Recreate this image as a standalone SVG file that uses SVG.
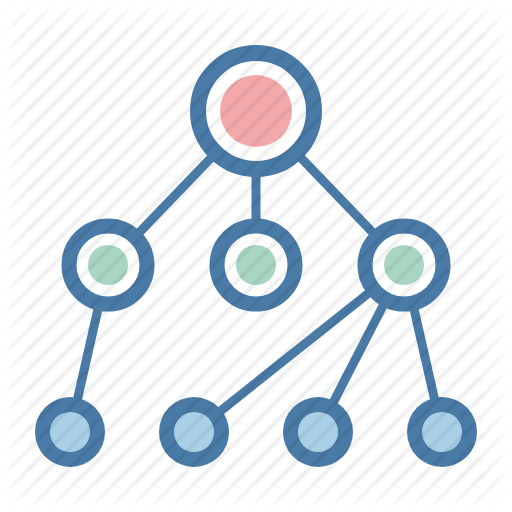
<svg xmlns="http://www.w3.org/2000/svg" width="512" height="512" viewBox="0 0 512 512">
<defs>
<pattern id="stripes" patternUnits="userSpaceOnUse" x="0" y="0" width="20" height="20">
<path d="M-3,1 L1,-3 M-2,20 L20,-2 M16,22 L22,16" stroke="#000" stroke-opacity="0.06" stroke-width="3.6" fill="none"/>
</pattern>
<filter id="soft" x="-10%" y="-10%" width="120%" height="120%">
<feGaussianBlur stdDeviation="9"/>
</filter>
<mask id="edgefade" maskUnits="userSpaceOnUse" x="0" y="0" width="512" height="512">
<rect x="14" y="14" width="484" height="484" fill="#fff" filter="url(#soft)"/>
</mask>
<style>
.edge{stroke:#4a7ba7;stroke-width:9;fill:none}
.ring{fill:#ffffff;stroke:#4a7ba7}
.leaf{fill:#4a7ba7}
</style>
</defs>
<rect width="512" height="512" fill="#ffffff"/>
<g id="connectors">
<line class="edge" x1="256" y1="111" x2="108" y2="265"/>
<line class="edge" x1="256" y1="111" x2="256" y2="265"/>
<line class="edge" x1="256" y1="111" x2="404" y2="265"/>
<line class="edge" x1="108" y1="265" x2="70" y2="432"/>
<line class="edge" x1="404" y1="265" x2="194" y2="432"/>
<line class="edge" x1="404" y1="265" x2="318" y2="432"/>
<line class="edge" x1="404" y1="265" x2="442" y2="432"/>
</g>
<g id="root">
<circle class="ring" cx="256" cy="111" r="58" stroke-width="16"/>
<circle cx="256" cy="111" r="36" fill="#f3a9aa"/>
</g>
<g id="mid-left">
<circle class="ring" cx="108" cy="265" r="39" stroke-width="15"/>
<circle cx="108" cy="265" r="20" fill="#a9d6c3"/>
</g>
<g id="mid-center">
<circle class="ring" cx="256" cy="265" r="39" stroke-width="15"/>
<circle cx="256" cy="265" r="20" fill="#a9d6c3"/>
</g>
<g id="mid-right">
<circle class="ring" cx="404" cy="265" r="39" stroke-width="15"/>
<circle cx="404" cy="265" r="20" fill="#a9d6c3"/>
</g>
<g id="leaf-1">
<circle class="leaf" cx="70" cy="432" r="35"/>
<circle cx="70" cy="432" r="20" fill="#aad0e7"/>
</g>
<g id="leaf-2">
<circle class="leaf" cx="194" cy="432" r="35"/>
<circle cx="194" cy="432" r="20" fill="#aad0e7"/>
</g>
<g id="leaf-3">
<circle class="leaf" cx="318" cy="432" r="35"/>
<circle cx="318" cy="432" r="20" fill="#aad0e7"/>
</g>
<g id="leaf-4">
<circle class="leaf" cx="442" cy="432" r="35"/>
<circle cx="442" cy="432" r="20" fill="#aad0e7"/>
</g>
<rect width="512" height="512" fill="url(#stripes)" mask="url(#edgefade)"/>
</svg>
